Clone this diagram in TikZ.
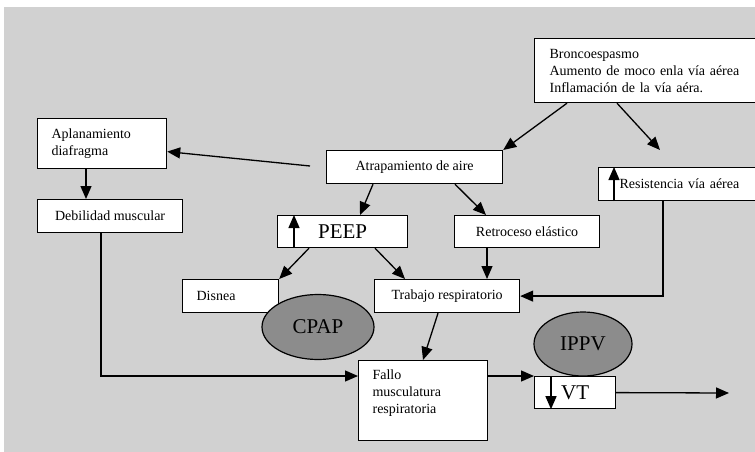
\documentclass[tikz,border=0pt]{standalone}
\usepackage{fontspec}
\setmainfont{Liberation Serif}
\usetikzlibrary{arrows.meta,calc,shapes.geometric}
\definecolor{bg}{gray}{0.82}
\definecolor{ellgray}{gray}{0.55}
\begin{document}
\begin{tikzpicture}[x=1pt,y=-1pt,
 box/.style={draw=black, line width=1.2pt, fill=white, anchor=north west, inner sep=0pt, font=\fontsize{14}{17}\selectfont},
 lbox/.style={box, align=left},
 big/.style={font=\fontsize{21}{24}\selectfont},
 arr/.style={line width=1.3pt, -{Triangle[length=13pt,width=11pt]}},
 ell/.style={ellipse, draw=black, line width=1.2pt, fill=ellgray, inner sep=0pt, big}]
\useasboundingbox (0,0) rectangle (755,452);
\fill[bg] (4,7) rectangle (755,452);

% boxes
\node[lbox, inner xsep=15pt, text width=193pt, minimum height=64pt] (bronc) at (534,38)
  {Broncoespasmo\\Aumento de moco enla vía aérea\\Inflamación de la vía aéra.};
\node[lbox, inner xsep=14pt, text width=101pt, minimum height=50pt] (apl) at (37,118)
  {Aplanamiento\\diafragma};
\node[box, minimum width=145pt, minimum height=33pt] (deb) at (37,199) {Debilidad muscular};
\node[box, minimum width=176pt, minimum height=33pt] (atr) at (326,150) {Atrapamiento de aire};
\node[lbox, inner xsep=21pt, text width=128pt, minimum height=33pt] (res) at (598,167)
  {Resistencia vía aérea};
\node[box, big, minimum width=130pt, minimum height=32pt] (peep) at (277,215) {PEEP};
\node[box, minimum width=145pt, minimum height=32pt] (ret) at (454,215) {Retroceso elástico};
\node[lbox, inner xsep=14pt, text width=68pt, minimum height=33pt] (dis) at (182,279) {Disnea};
\node[box, minimum width=145pt, minimum height=33pt] (trab) at (374,279) {Trabajo respiratorio};
\node[box, inner xsep=14pt, inner ysep=9pt] (fallo) at (358,360)
  {\parbox[t][62pt][t]{101pt}{Fallo\\musculatura\\respiratoria}};
\node[box, big, minimum width=81pt, minimum height=32pt] (vt) at (534,376) {VT};

% ellipses
\node[ell, minimum width=112pt, minimum height=65pt] (cpap) at (318,327) {CPAP};
\node[ell, minimum width=98pt, minimum height=64pt] (ippv) at (583,344) {IPPV};

% free ends
\coordinate (resTop) at (660,150);
\coordinate (atrL) at (310,166);
\coordinate (out) at (729,393);

% connectors
\draw[arr] ([xshift=33pt]bronc.south west) -- (atr.north east);
\draw[arr] ([xshift=83pt]bronc.south west) -- (resTop);
\draw[arr] (atrL) -- ([yshift=-8pt]apl.east);
\draw[arr] ([xshift=49pt]apl.south west) -- ([xshift=49pt]deb.north west);
\draw[arr] ([xshift=64pt]deb.south west) |- ([yshift=-16pt]fallo.north west);
\draw[arr] ([xshift=47pt]atr.south west) -- ([xshift=83pt]peep.north west);
\draw[arr] ([xshift=129pt]atr.south west) -- ([xshift=32pt]ret.north west);
\draw[arr] ([xshift=32pt]peep.south west) -- (dis.north east);
\draw[arr] ([xshift=98pt]peep.south west) -- ([xshift=31pt]trab.north west);
\draw[arr] ([xshift=33pt]ret.south west) -- ([xshift=113pt]trab.north west);
\draw[arr] ([xshift=65pt]res.south west) |- (trab.east);
\draw[arr] ([xshift=64pt]trab.south west) -- ([xshift=65pt]fallo.north west);
\draw[arr] ([yshift=-16pt]fallo.north east) -- (vt.north west);
\draw[arr] (vt.east) -- (out);

% inner arrows
\draw[arr] ([xshift=17pt]peep.south west) -- ([xshift=17pt]peep.north west);
\draw[arr] ([xshift=16pt]res.south west) -- ([xshift=16pt]res.north west);
\draw[arr] ([xshift=17pt]vt.north west) -- ([xshift=17pt]vt.south west);
\end{tikzpicture}
\end{document}
